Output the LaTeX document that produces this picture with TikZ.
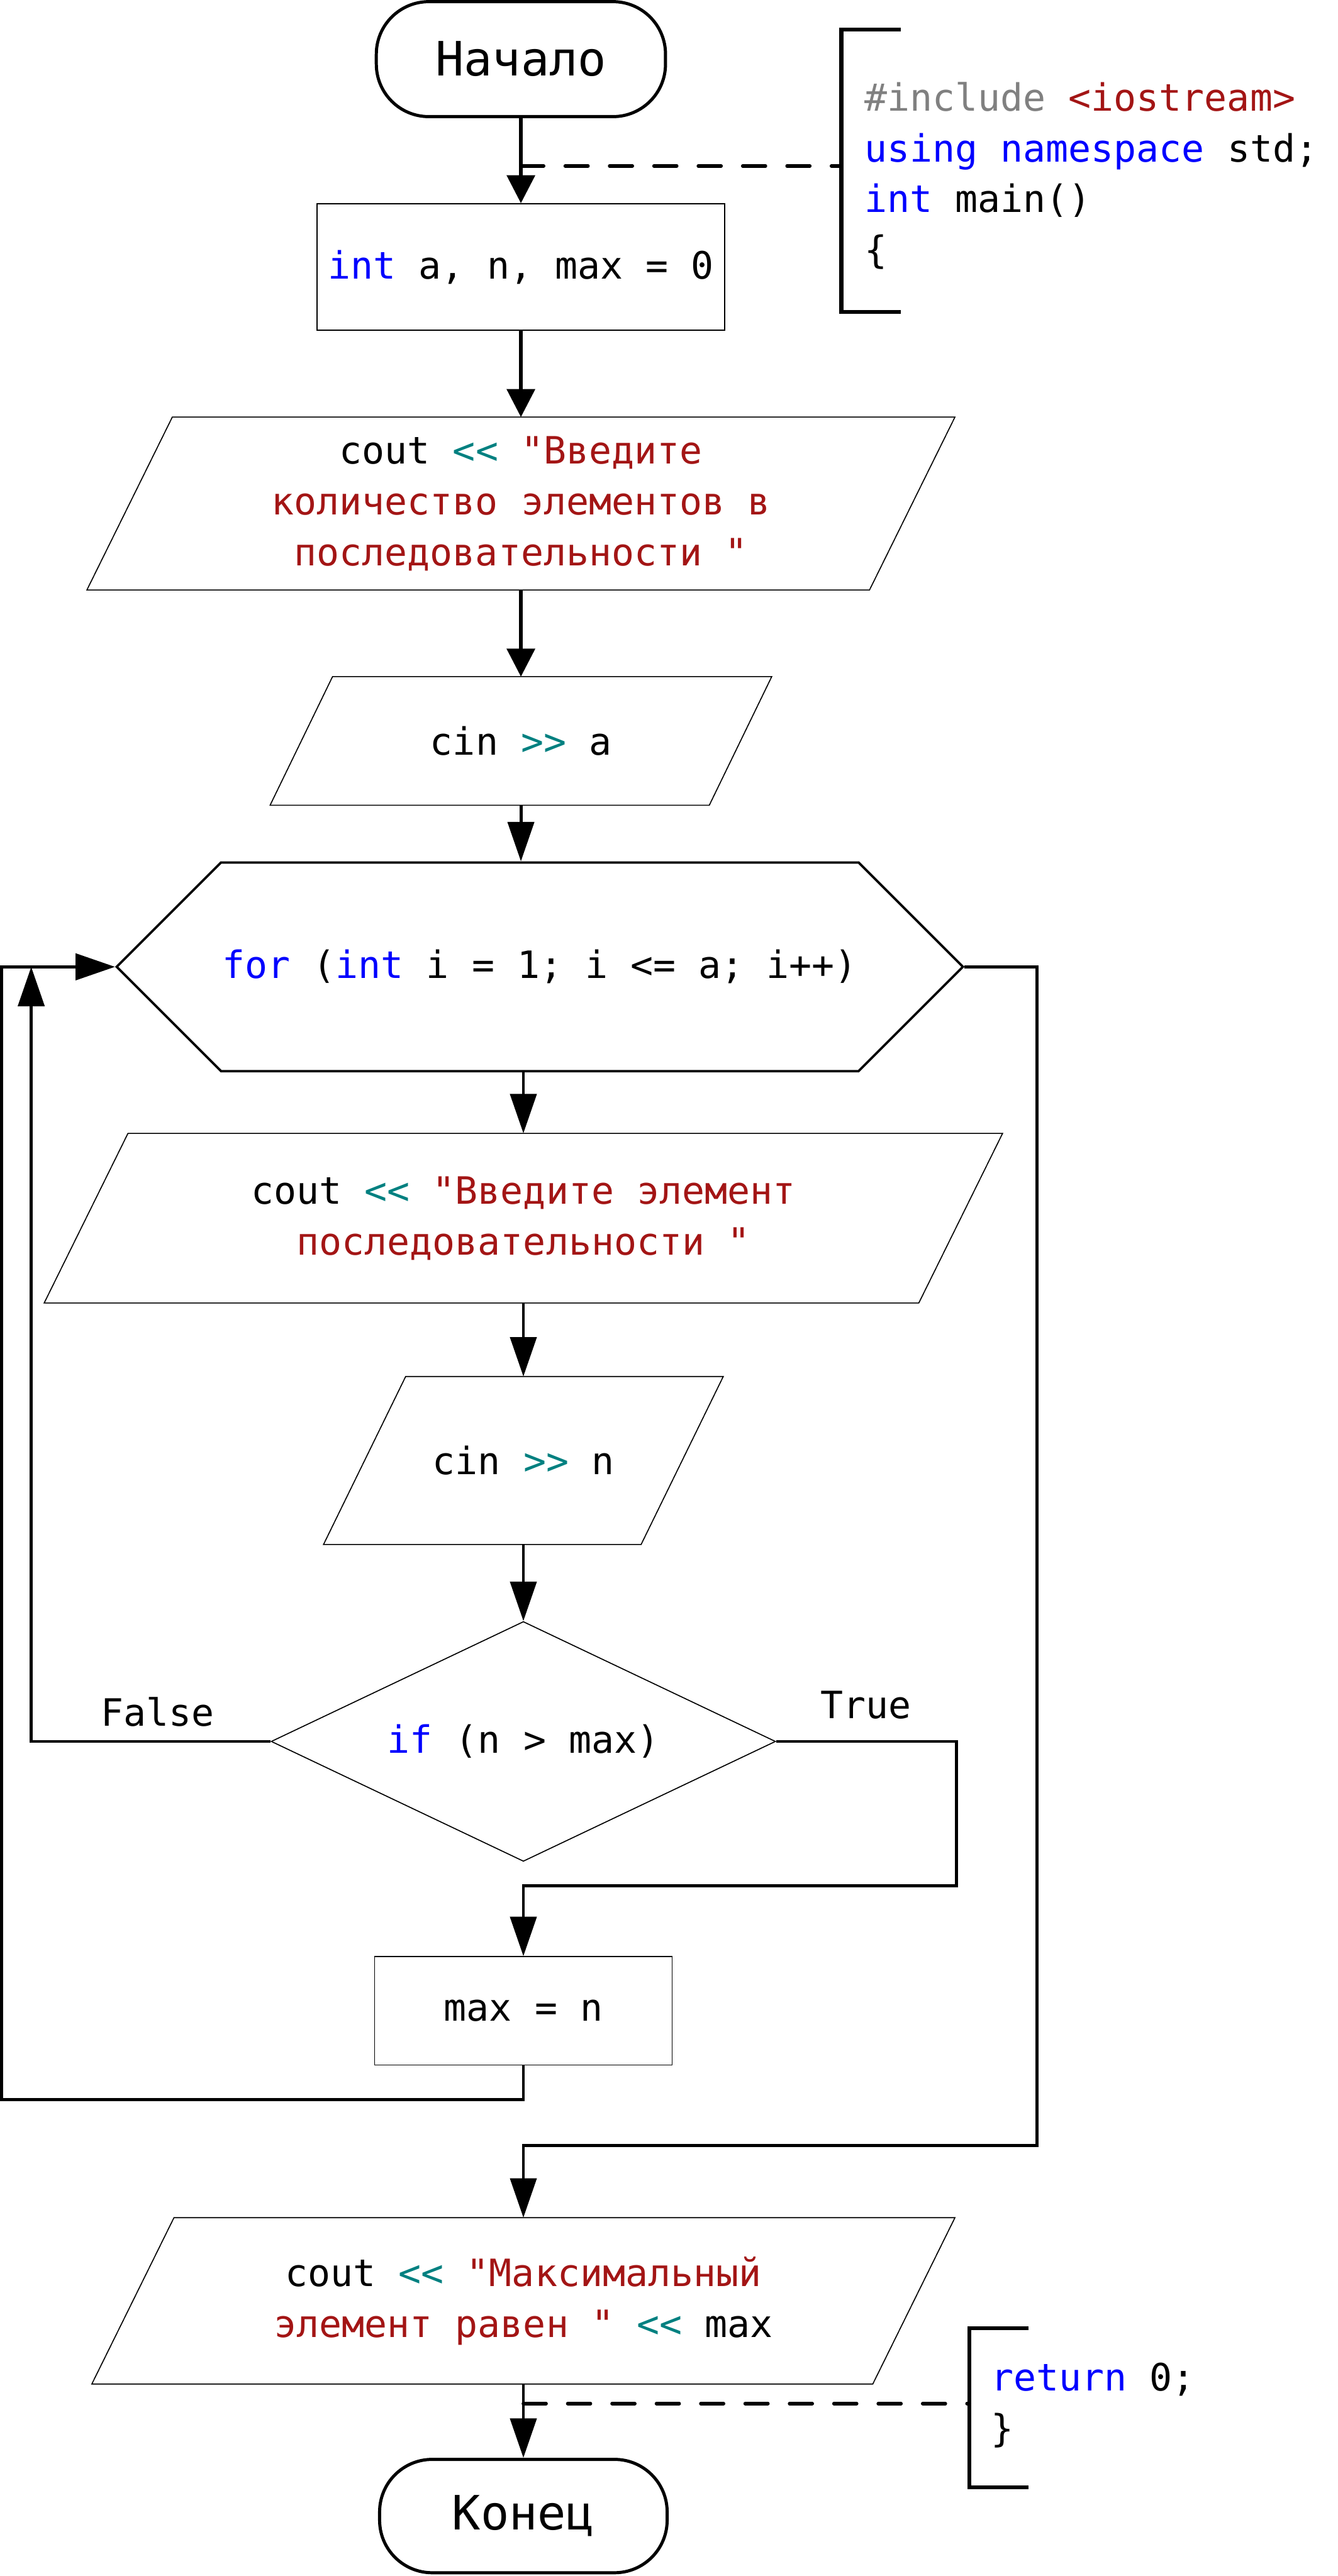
\documentclass[tikz,border=0pt]{standalone}
\usepackage{fontspec}
\setmonofont{DejaVu Sans Mono}
\usetikzlibrary{shapes.geometric,shapes.symbols,arrows.meta}

\definecolor{kwblue}{RGB}{0,0,255}
\definecolor{opteal}{RGB}{0,128,128}
\definecolor{strred}{RGB}{163,21,21}
\definecolor{ppgray}{RGB}{128,128,128}

\newcommand{\kw}[1]{\textcolor{kwblue}{#1}}
\newcommand{\op}[1]{\textcolor{opteal}{#1}}
\newcommand{\strlit}[1]{\textcolor{strred}{#1}}
\newcommand{\codesize}{\fontsize{32.6}{44}\selectfont}
\newcommand{\termsize}{\fontsize{41}{48}\selectfont}

\tikzset{
  code/.style={font=\codesize\ttfamily},
  term/.style={draw,line width=2.7pt,rounded corners=1.6cm,inner sep=0pt,font=\termsize\ttfamily},
  proc/.style={draw,line width=0.9pt,inner sep=0pt,code},
  io/.style={inner sep=0pt,align=center,code},
  ioline/.style={line width=0.9pt,line join=miter},
  hexa/.style={draw,signal,signal to=west and east,signal pointer angle=90,
    line width=2pt,inner sep=0pt,code},
  decide/.style={draw,diamond,aspect=2.1,line width=0.9pt,inner sep=0pt,code},
  flow/.style={line width=2.85pt,-{Triangle[length=0.85cm,width=0.85cm]}},
  flowlong/.style={line width=2.7pt,-{Triangle[length=1.2cm,width=0.8cm]}},
  dashline/.style={line width=3.1pt,line cap=round,dash pattern=on 0.69cm off 0.66cm},
  bracket/.style={line width=3.3pt}
}

\begin{document}
\begin{tikzpicture}[x=0.05cm,y=-0.05cm]
\useasboundingbox (0,0) rectangle (814,1568);

\node[term,minimum width=8.8cm,minimum height=3.5cm] (start) at (317,36) {Начало};
\node[proc,minimum width=12.4cm,minimum height=3.85cm] (init) at (317,162.5) {\kw{int} a, n, max = 0};
\node[io,minimum width=26.4cm,minimum height=5.25cm] (askA) at (317,306.5)
  {cout \op{<<} \strlit{"Введите}\\\strlit{количество элементов в}\\\strlit{последовательности "}};
\node[io,minimum width=15.25cm,minimum height=3.9cm] (readA) at (317,451) {cin \op{>>} a};
\node[hexa,minimum width=25.75cm,minimum height=6.35cm] (loop) at (328.5,588.5)
  {\kw{for} (\kw{int} i = 1; i <= a; i++)};
\node[io,minimum width=29.15cm,minimum height=5.15cm] (askN) at (318.5,741.5)
  {cout \op{<<} \strlit{"Введите элемент}\\\strlit{последовательности "}};
\node[io,minimum width=12.15cm,minimum height=5.1cm] (readN) at (318.5,889) {cin \op{>>} n};
\node[decide,minimum width=15.35cm,minimum height=7.3cm] (cond) at (318.5,1060) {\kw{if} (n > max)};
\node[proc,minimum width=9.05cm,minimum height=3.3cm] (assign) at (318.5,1224) {max = n};
\node[io,minimum width=26.25cm,minimum height=5.05cm] (result) at (318.5,1400.5)
  {cout \op{<<} \strlit{"Максимальный}\\\strlit{элемент равен "} \op{<<} max};
\node[term,minimum width=8.75cm,minimum height=3.45cm] (stop) at (318.5,1531.5) {Конец};

% parallelograms for input/output
\draw[ioline] ([xshift=2.6cm]askA.north west) -- (askA.north east) -- ([xshift=-2.6cm]askA.south east) -- (askA.south west) -- cycle;
\draw[ioline] ([xshift=1.9cm]readA.north west) -- (readA.north east) -- ([xshift=-1.9cm]readA.south east) -- (readA.south west) -- cycle;
\draw[ioline] ([xshift=2.55cm]askN.north west) -- (askN.north east) -- ([xshift=-2.55cm]askN.south east) -- (askN.south west) -- cycle;
\draw[ioline] ([xshift=2.5cm]readN.north west) -- (readN.north east) -- ([xshift=-2.5cm]readN.south east) -- (readN.south west) -- cycle;
\draw[ioline] ([xshift=2.5cm]result.north west) -- (result.north east) -- ([xshift=-2.5cm]result.south east) -- (result.south west) -- cycle;

\node[code] (lblF) at (96,1042) {False};
\node[code] (lblT) at (527,1038) {True};

% main flow
\draw[flow] (start) -- (init);
\draw[flow] (init) -- (askA);
\draw[flow] (askA) -- (readA);
\draw[flowlong] (readA.south) -- (readA.south |- loop.north);
\draw[flowlong] (askN |- loop.south) -- (askN.north);
\draw[flowlong] (askN) -- (readN);
\draw[flowlong] (readN) -- (cond);
\draw[flowlong] (result) -- (stop);

% branches and loop back
\coordinate (falseTop) at (19,588.5);
\draw[flowlong] (cond.west) -| (falseTop);
\coordinate (trueCorner) at (582,1148);
\draw[flowlong] (cond.east) -| (trueCorner) -| (assign.north);
\coordinate (backCorner) at (1,1278);
\draw[flowlong] (assign.south) |- (backCorner) |- (loop.west);
\coordinate (exitCorner) at (631,1306);
\draw[flowlong] (loop.east) -| (exitCorner) -| (result.north);

% code notes
\coordinate (note1) at (512,101);
\draw[dashline] (start.south |- note1) -- (note1);
\draw[bracket] (548,18) -- (512,18) -- (512,190) -- (548,190);
\node[code,anchor=west,align=left,inner sep=0pt] (head) at (526,107)
  {\textcolor{ppgray}{\#include} \strlit{<iostream>}\\\kw{using namespace} std;\\\kw{int} main()\\\{};
\coordinate (note2) at (590,1463);
\draw[dashline] (result.south |- note2) -- (note2);
\draw[bracket] (626,1417) -- (590,1417) -- (590,1514) -- (626,1514);
\node[code,anchor=west,align=left,inner sep=0pt] (tail) at (603,1464) {\kw{return} 0;\\\}};
\end{tikzpicture}
\end{document}
